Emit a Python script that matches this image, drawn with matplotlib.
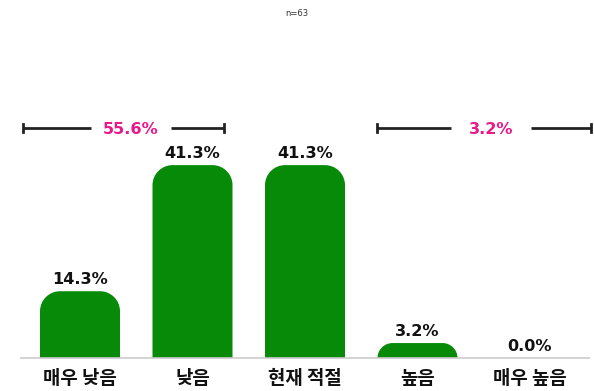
import matplotlib
matplotlib.use("Agg")
import matplotlib.pyplot as plt
from matplotlib.path import Path
from matplotlib.patches import PathPatch

categories = ["매우 낮음", "낮음", "현재 적절", "높음", "매우 높음"]
values = [14.3, 41.3, 41.3, 3.2, 0.0]
group_labels = ["55.6%", "3.2%"]
note = "n=63"

GREEN = "#078a07"
PINK = "#e8198b"

W, H = 5.94, 3.91
fig = plt.figure(figsize=(W, H), dpi=100)
ax = fig.add_axes([0, 0, 1, 1])
pxu = 4.67
ax.set_xlim(-80 / 112.5, (594 - 80) / 112.5)
ax.set_ylim(-33 / pxu, (391 - 33) / pxu)
ax.axis("off")

sx = 112.5  # px per x unit
sy = pxu    # px per y unit
bw = 80 / sx

def rounded_bar(xc, h, rpx=20):
    if h <= 0:
        return
    hp = h * sy
    r = min(rpx, hp)
    rx = r / sx
    ry = r / sy
    x0, x1 = xc - bw / 2, xc + bw / 2
    k = 0.5523
    verts = [
        (x0, 0), (x0, h - ry),
        (x0, h - ry + k * ry), (x0 + rx - k * rx, h), (x0 + rx, h),
        (x1 - rx, h),
        (x1 - rx + k * rx, h), (x1, h - ry + k * ry), (x1, h - ry),
        (x1, 0), (x0, 0),
    ]
    codes = [Path.MOVETO, Path.LINETO,
             Path.CURVE4, Path.CURVE4, Path.CURVE4,
             Path.LINETO,
             Path.CURVE4, Path.CURVE4, Path.CURVE4,
             Path.LINETO, Path.CLOSEPOLY]
    ax.add_patch(PathPatch(Path(verts, codes), facecolor=GREEN, edgecolor="none"))

num_font = dict(family=["DejaVu Sans"], fontweight="bold")
kr_font = dict(family=["Noto Sans CJK KR", "DejaVu Sans"], fontweight="black")

for i, (c, v) in enumerate(zip(categories, values)):
    rounded_bar(i, v)
    ax.text(i, v + 7 / sy, f"{v:.1f}%", ha="center", va="baseline",
            fontsize=11.6, color="#111111", **num_font)
    ax.text(i, -21 / sy, c, ha="center", va="center", fontsize=13.6,
            color="#111111", **kr_font)

ax.plot([(20 - 80) / sx, (590 - 80) / sx], [0, 0], color="#cccccc", lw=1.2,
        solid_capstyle="butt")

# brackets
by = (391 - 128 - 33) / sy
brackets = [((23 - 80) / sx, (224 - 80) / sx), ((377 - 80) / sx, (591 - 80) / sx)]
for (a, b), lab in zip(brackets, group_labels):
    mid = (a + b) / 2 + 7 / sx
    gap = 40 / sx
    ax.plot([a, mid - gap], [by, by], color="#222222", lw=2, solid_capstyle="butt")
    ax.plot([mid + gap, b], [by, by], color="#222222", lw=2, solid_capstyle="butt")
    for xx in (a, b):
        ax.plot([xx, xx], [by - 4 / sy, by + 4 / sy], color="#222222", lw=2)
    ax.text(mid, by, lab, ha="center", va="center_baseline", fontsize=11.6,
            color=PINK, **num_font)

fig.text(297 / 594, 1 - 13 / 391, note, ha="center", va="center", fontsize=6,
         color="#333333")

fig.savefig("out.png", dpi=100)
